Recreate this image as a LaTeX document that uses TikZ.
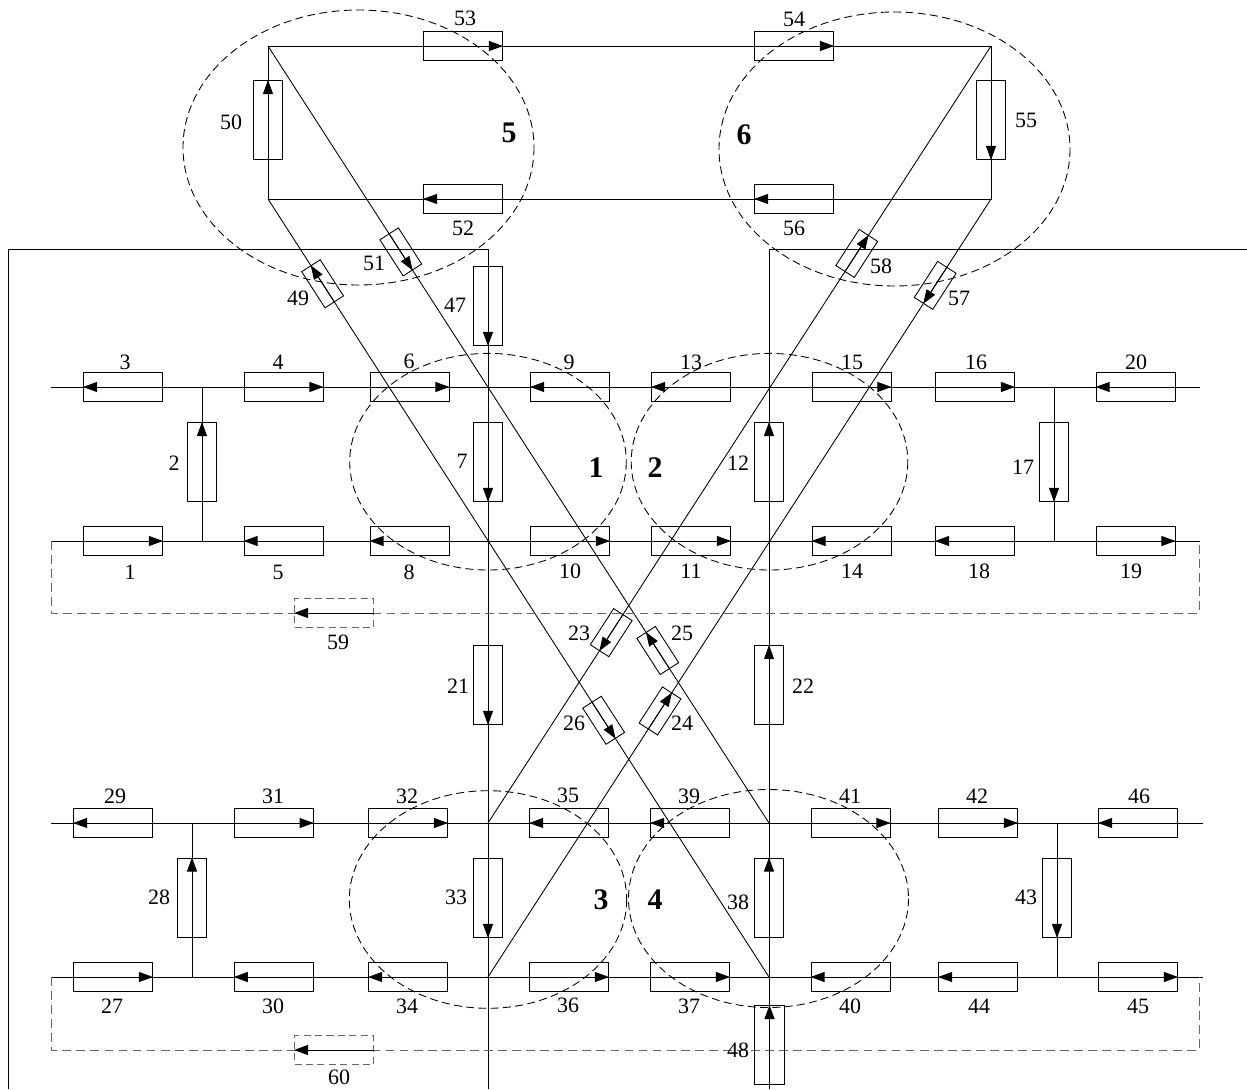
\documentclass[tikz,border=0pt]{standalone}
\usepackage{fontspec}
\setmainfont{Liberation Serif}
\usetikzlibrary{arrows.meta,calc}
\begin{document}
\begin{tikzpicture}[x=0.02cm, y=-0.02cm, line width=0.5pt,
      hbox/.style={draw, minimum width=1.58cm, minimum height=0.59cm, inner sep=0pt},
      vbox/.style={draw, minimum width=0.59cm, minimum height=1.58cm, inner sep=0pt},
      dbox/.style={draw, minimum width=0.86cm, minimum height=0.44cm, inner sep=0pt},
      dashbox/.style={hbox, dash pattern=on 4pt off 2.5pt, gray!80!black},
      arr/.style={-{Triangle[length=2.8mm, width=2mm]}},
      num/.style={font=\fontsize{12.5}{14}\selectfont, inner sep=1pt},
      zone/.style={dash pattern=on 4.5pt off 2.5pt},
      zonenum/.style={font=\fontsize{17}{20}\selectfont\bfseries, inner sep=1pt},
      loopline/.style={dash pattern=on 5pt off 3pt, gray!80!black}]
   \useasboundingbox (0,0) rectangle (1247,1089);

   % junctions
   \coordinate (c5tl) at (268,46);
   \coordinate (c6tr) at (991,46);
   \coordinate (c5bl) at (268,199);
   \coordinate (c6br) at (991,199);
   \coordinate (f1) at (8,1089);
   \coordinate (f2) at (8,249);
   \coordinate (f3) at (488,249);
   \coordinate (f4) at (488,1089);
   \coordinate (f5) at (769,1089);
   \coordinate (f6) at (769,249);
   \coordinate (f7) at (1247,249);
   \coordinate (u1w) at (51,387);
   \coordinate (u1e) at (1200,387);
   \coordinate (l1w) at (51,541);
   \coordinate (l1e) at (1200,541);
   \coordinate (u2w) at (51,823);
   \coordinate (u2e) at (1203,823);
   \coordinate (l2w) at (51,977);
   \coordinate (l2e) at (1203,977);
   \coordinate (p1) at (488,823);
   \coordinate (p2) at (769,823);
   \coordinate (p3) at (488,977);
   \coordinate (p4) at (769,977);
   \coordinate (k1a) at (51,613);
   \coordinate (k1b) at (1199,613);
   \coordinate (k1c) at (1199,541);
   \coordinate (k2a) at (51,1050);
   \coordinate (k2b) at (1199,1050);
   \coordinate (k2c) at (1199,977);

   % lines
   \draw (c5tl) -- (c6tr) -- (c6br) -- (c5bl) -- cycle;
   \draw (f1) -- (f2) -- (f3) -- (f4);
   \draw (f5) -- (f6) -- (f7);
   \draw (u1w) -- (u1e);
   \draw (l1w) -- (l1e);
   \draw (u2w) -- (u2e);
   \draw (l2w) -- (l2e);
   \draw (202,387) coordinate (t2) -- (202,541) coordinate (s2);
   \draw (1054,387) coordinate (t17) -- (1054,541) coordinate (s17);
   \draw (192,823) coordinate (t28) -- (192,977) coordinate (s28);
   \draw (1057,823) coordinate (t43) -- (1057,977) coordinate (s43);
   \draw (c5tl) -- (p2);
   \draw (c5bl) -- (p4);
   \draw (c6tr) -- (p1);
   \draw (c6br) -- (p3);
   \draw[loopline] (l1w) -- (k1a) -- (k1b) -- (k1c);
   \draw[loopline] (l2w) -- (k2a) -- (k2b) -- (k2c);

   % zones
   \draw[zone] (358.5,147.5) ellipse [x radius=175.5, y radius=137.5];
   \draw[zone] (894.5,149) ellipse [x radius=175.5, y radius=137];
   \draw[zone] (488,461.7) ellipse [x radius=138.3, y radius=108.3];
   \draw[zone] (769.5,461.7) ellipse [x radius=138.3, y radius=108.3];
   \draw[zone] (488,899.5) ellipse [x radius=138.7, y radius=108.8];
   \draw[zone] (768.5,898.5) ellipse [x radius=140, y radius=109];

   % top loop
   \node[hbox] (b53) at (463,46) {}; \draw[arr] (b53.west) -- (b53.east);
   \node[hbox] (b54) at (794,46) {}; \draw[arr] (b54.west) -- (b54.east);
   \node[hbox] (b52) at (463,199) {}; \draw[arr] (b52.east) -- (b52.west);
   \node[hbox] (b56) at (794,199) {}; \draw[arr] (b56.east) -- (b56.west);
   \node[vbox] (b50) at (268,120) {}; \draw[arr] (b50.south) -- (b50.north);
   \node[vbox] (b55) at (991,120) {}; \draw[arr] (b55.north) -- (b55.south);
   \node[vbox] (b47) at (488,306) {}; \draw[arr] (b47.north) -- (b47.south);
   \node[vbox] (b48) at (769.5,1045) {}; \draw[arr] (b48.south) -- (b48.north);

   % diagonals
   \node[dbox, rotate=-57.2] (b51) at ($(c5tl)!0.265!(p2)$) {}; \draw[arr] (b51.west) -- (b51.east);
   \node[dbox, rotate=-57.2] (b25) at ($(c5tl)!0.778!(p2)$) {}; \draw[arr] (b25.east) -- (b25.west);
   \node[dbox, rotate=-57.2] (b49) at ($(c5bl)!0.109!(p4)$) {}; \draw[arr] (b49.east) -- (b49.west);
   \node[dbox, rotate=-57.2] (b26) at ($(c5bl)!0.670!(p4)$) {}; \draw[arr] (b26.west) -- (b26.east);
   \node[dbox, rotate=57.1] (b58) at ($(c6tr)!0.267!(p1)$) {}; \draw[arr] (b58.west) -- (b58.east);
   \node[dbox, rotate=57.1] (b23) at ($(c6tr)!0.755!(p1)$) {}; \draw[arr] (b23.east) -- (b23.west);
   \node[dbox, rotate=57.1] (b57) at ($(c6br)!0.111!(p3)$) {}; \draw[arr] (b57.east) -- (b57.west);
   \node[dbox, rotate=57.1] (b24) at ($(c6br)!0.658!(p3)$) {}; \draw[arr] (b24.west) -- (b24.east);

   % upper section
   \node[hbox] (b3) at (123,387) {}; \draw[arr] (b3.east) -- (b3.west);
   \node[hbox] (b4) at (283.5,387) {}; \draw[arr] (b4.west) -- (b4.east);
   \node[hbox] (b6) at (409.5,387) {}; \draw[arr] (b6.west) -- (b6.east);
   \node[hbox] (b9) at (570,387) {}; \draw[arr] (b9.east) -- (b9.west);
   \node[hbox] (b13) at (691,387) {}; \draw[arr] (b13.east) -- (b13.west);
   \node[hbox] (b15) at (851.5,387) {}; \draw[arr] (b15.west) -- (b15.east);
   \node[hbox] (b16) at (975,387) {}; \draw[arr] (b16.west) -- (b16.east);
   \node[hbox] (b20) at (1135.5,387) {}; \draw[arr] (b20.east) -- (b20.west);
   \node[hbox] (b1) at (123,541) {}; \draw[arr] (b1.west) -- (b1.east);
   \node[hbox] (b5) at (283.5,541) {}; \draw[arr] (b5.east) -- (b5.west);
   \node[hbox] (b8) at (409.5,541) {}; \draw[arr] (b8.east) -- (b8.west);
   \node[hbox] (b10) at (570,541) {}; \draw[arr] (b10.west) -- (b10.east);
   \node[hbox] (b11) at (691,541) {}; \draw[arr] (b11.west) -- (b11.east);
   \node[hbox] (b14) at (851.5,541) {}; \draw[arr] (b14.east) -- (b14.west);
   \node[hbox] (b18) at (975,541) {}; \draw[arr] (b18.east) -- (b18.west);
   \node[hbox] (b19) at (1135.5,541) {}; \draw[arr] (b19.west) -- (b19.east);
   \node[vbox] (b2) at (202,462) {}; \draw[arr] (b2.south) -- (b2.north);
   \node[vbox] (b7) at (488,462) {}; \draw[arr] (b7.north) -- (b7.south);
   \node[vbox] (b12) at (769,462) {}; \draw[arr] (b12.south) -- (b12.north);
   \node[vbox] (b17) at (1054,462) {}; \draw[arr] (b17.north) -- (b17.south);
   \node[vbox] (b21) at (488,685) {}; \draw[arr] (b21.north) -- (b21.south);
   \node[vbox] (b22) at (769,685) {}; \draw[arr] (b22.south) -- (b22.north);
   \node[dashbox] (b59) at (334,613) {}; \draw[arr] (b59.east) -- (b59.west);

   % lower section
   \node[hbox] (b29) at (113,823) {}; \draw[arr] (b29.east) -- (b29.west);
   \node[hbox] (b31) at (273.7,823) {}; \draw[arr] (b31.west) -- (b31.east);
   \node[hbox] (b32) at (408,823) {}; \draw[arr] (b32.west) -- (b32.east);
   \node[hbox] (b35) at (569,823) {}; \draw[arr] (b35.east) -- (b35.west);
   \node[hbox] (b39) at (690,823) {}; \draw[arr] (b39.east) -- (b39.west);
   \node[hbox] (b41) at (850.5,823) {}; \draw[arr] (b41.west) -- (b41.east);
   \node[hbox] (b42) at (978,823) {}; \draw[arr] (b42.west) -- (b42.east);
   \node[hbox] (b46) at (1138,823) {}; \draw[arr] (b46.east) -- (b46.west);
   \node[hbox] (b27) at (113,977) {}; \draw[arr] (b27.west) -- (b27.east);
   \node[hbox] (b30) at (273.7,977) {}; \draw[arr] (b30.east) -- (b30.west);
   \node[hbox] (b34) at (408,977) {}; \draw[arr] (b34.east) -- (b34.west);
   \node[hbox] (b36) at (569,977) {}; \draw[arr] (b36.west) -- (b36.east);
   \node[hbox] (b37) at (690,977) {}; \draw[arr] (b37.west) -- (b37.east);
   \node[hbox] (b40) at (850.5,977) {}; \draw[arr] (b40.east) -- (b40.west);
   \node[hbox] (b44) at (978,977) {}; \draw[arr] (b44.east) -- (b44.west);
   \node[hbox] (b45) at (1138,977) {}; \draw[arr] (b45.west) -- (b45.east);
   \node[vbox] (b28) at (192,897.5) {}; \draw[arr] (b28.south) -- (b28.north);
   \node[vbox] (b33) at (488,898) {}; \draw[arr] (b33.north) -- (b33.south);
   \node[vbox] (b38) at (769,897.5) {}; \draw[arr] (b38.south) -- (b38.north);
   \node[vbox] (b43) at (1057,898) {}; \draw[arr] (b43.north) -- (b43.south);
   \node[dashbox] (b60) at (334,1050) {}; \draw[arr] (b60.east) -- (b60.west);

   % labels
   \node[num] (n1) at (130,572) {1};
   \node[num] (n2) at (174,463) {2};
   \node[num] (n3) at (125,362) {3};
   \node[num] (n4) at (278,362) {4};
   \node[num] (n5) at (278,572) {5};
   \node[num] (n6) at (409,361) {6};
   \node[num] (n7) at (462,461) {7};
   \node[num] (n8) at (409,572) {8};
   \node[num] (n9) at (569,362) {9};
   \node[num] (n10) at (570,571) {10};
   \node[num] (n11) at (691,571) {11};
   \node[num] (n12) at (738,463) {12};
   \node[num] (n13) at (691,362) {13};
   \node[num] (n14) at (852,571) {14};
   \node[num] (n15) at (852,362) {15};
   \node[num] (n16) at (976,362) {16};
   \node[num] (n17) at (1023,467) {17};
   \node[num] (n18) at (979,571) {18};
   \node[num] (n19) at (1131,571) {19};
   \node[num] (n20) at (1136,362) {20};
   \node[num] (n21) at (458,686) {21};
   \node[num] (n22) at (803,686) {22};
   \node[num] (n23) at (579,633) {23};
   \node[num] (n24) at (682,723) {24};
   \node[num] (n25) at (682,633) {25};
   \node[num] (n26) at (574,723) {26};
   \node[num] (n27) at (112,1006) {27};
   \node[num] (n28) at (159,897) {28};
   \node[num] (n29) at (115,796) {29};
   \node[num] (n30) at (273,1006) {30};
   \node[num] (n31) at (273,796) {31};
   \node[num] (n32) at (407,796) {32};
   \node[num] (n33) at (456,897) {33};
   \node[num] (n34) at (407,1006) {34};
   \node[num] (n35) at (568,795) {35};
   \node[num] (n36) at (568,1005) {36};
   \node[num] (n37) at (689,1006) {37};
   \node[num] (n38) at (738,902) {38};
   \node[num] (n39) at (689,796) {39};
   \node[num] (n40) at (850,1006) {40};
   \node[num] (n41) at (850,796) {41};
   \node[num] (n42) at (977,796) {42};
   \node[num] (n43) at (1026,897) {43};
   \node[num] (n44) at (979,1006) {44};
   \node[num] (n45) at (1138,1006) {45};
   \node[num] (n46) at (1139,796) {46};
   \node[num] (n47) at (455,305) {47};
   \node[num] (n48) at (738,1050) {48};
   \node[num] (n49) at (298,298) {49};
   \node[num] (n50) at (231,122) {50};
   \node[num] (n51) at (374,263) {51};
   \node[num] (n52) at (463,228) {52};
   \node[num] (n53) at (465,18) {53};
   \node[num] (n54) at (794,19) {54};
   \node[num] (n55) at (1026,120) {55};
   \node[num] (n56) at (794,228) {56};
   \node[num] (n57) at (959,298) {57};
   \node[num] (n58) at (881,266) {58};
   \node[num] (n59) at (338,642) {59};
   \node[num] (n60) at (339,1077) {60};
   \node[zonenum] (z1) at (596,468) {1};
   \node[zonenum] (z2) at (655,468) {2};
   \node[zonenum] (z3) at (601,900) {3};
   \node[zonenum] (z4) at (655,900) {4};
   \node[zonenum] (z5) at (509,133) {5};
   \node[zonenum] (z6) at (744,135) {6};
\end{tikzpicture}
\end{document}
